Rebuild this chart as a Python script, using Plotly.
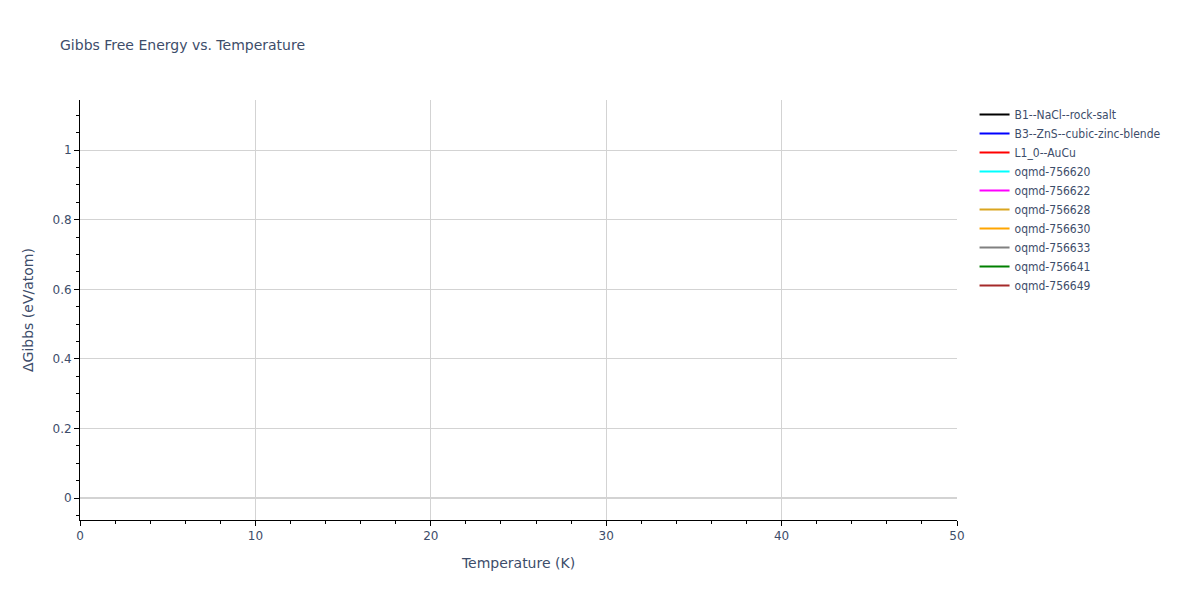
import plotly.graph_objects as go

# Structures shown in the legend and their line colours
structures = [
    "B1--NaCl--rock-salt",
    "B3--ZnS--cubic-zinc-blende",
    "L1_0--AuCu",
    "oqmd-756620",
    "oqmd-756622",
    "oqmd-756628",
    "oqmd-756630",
    "oqmd-756633",
    "oqmd-756641",
    "oqmd-756649",
]
line_colors = ["black", "blue", "red", "cyan", "magenta",
               "goldenrod", "orange", "gray", "green", "brown"]

# No curve is visible in the reference: the temperature grid has no energies
temperature = [0, 10, 20, 30, 40, 50]
delta_gibbs = [None, None, None, None, None, None]

fig = go.Figure()
for name, color in zip(structures, line_colors):
    fig.add_trace(go.Scatter(
        x=temperature,
        y=delta_gibbs,
        mode="lines",
        name=name,
        line=dict(color=color),
        showlegend=True,
    ))

fig.update_layout(
    title=dict(text="Gibbs Free Energy vs. Temperature", font=dict(size=14)),
    template="plotly_white",
    width=1200,
    height=600,
    font=dict(family="DejaVu Sans", size=12, color="#3d4d6a"),
    margin=dict(l=80, r=243, t=100, b=80),
    xaxis_title="Temperature (K)",
    yaxis_title="ΔGibbs (eV/atom)",
    showlegend=True,
    legend=dict(font=dict(family="DejaVu Sans Condensed, Noto Sans", size=12)),
)

fig.update_xaxes(
    range=[0, 50],
    showline=True, linecolor="black",
    ticks="outside", tickcolor="black",
    gridcolor="lightgray",
    zeroline=False,
    minor=dict(ticks="outside", dtick=2, tickcolor="black"),
)
fig.update_yaxes(
    range=[-0.063, 1.144],
    showline=True, linecolor="black",
    ticks="outside", tickcolor="black",
    gridcolor="lightgray",
    zeroline=True, zerolinecolor="lightgray", zerolinewidth=2,
    minor=dict(ticks="outside", dtick=0.05, tickcolor="black"),
)

# drop the page's default body margin so the figure sits at the window corner
fig.write_html("out.html", config={"displayModeBar": False},
               post_script="document.body.style.margin='0';")
